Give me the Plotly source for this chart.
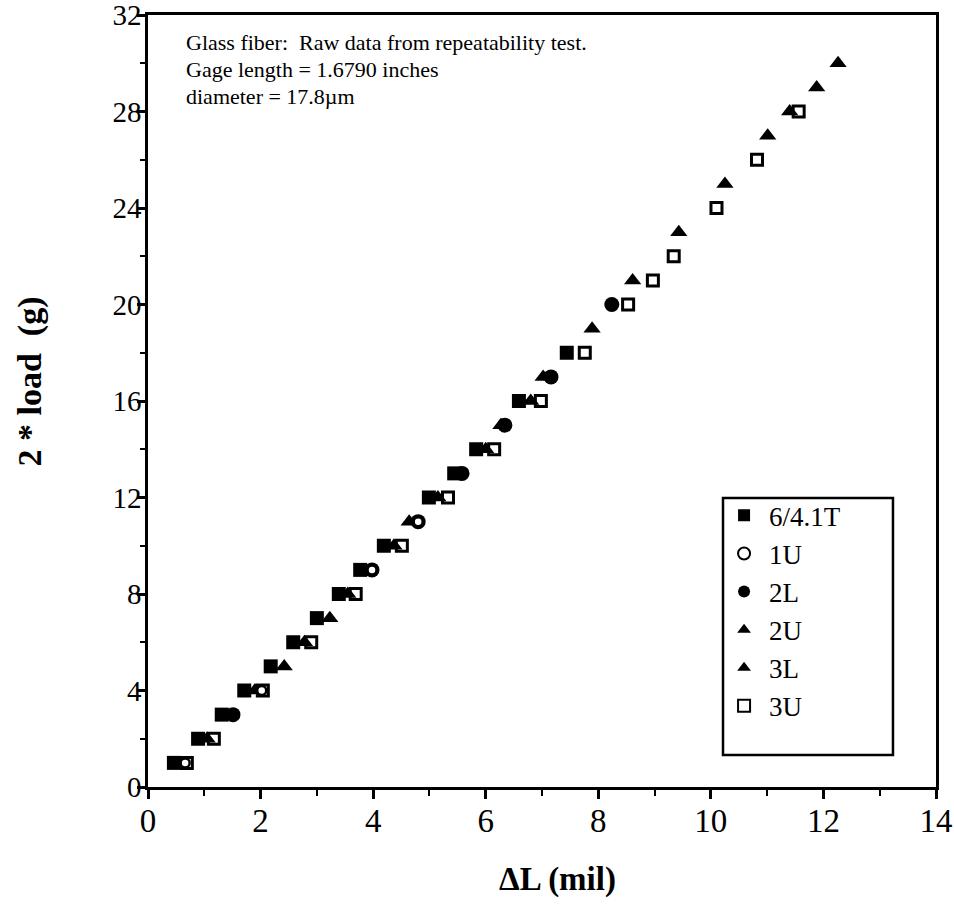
import plotly.graph_objects as go

# ---- data ----
t6_load = [1, 2, 3, 4, 5, 6, 7, 8, 9, 10, 12, 13, 14, 16, 18]
t6_dl   = [0.46, 0.89, 1.31, 1.71, 2.18, 2.58, 3.00, 3.39, 3.77, 4.19, 4.99, 5.44, 5.83, 6.59, 7.44]

u1_load = [1, 4, 9, 11]
u1_dl   = [0.66, 2.02, 3.98, 4.80]

l2_load = [3, 9, 11, 13, 15, 17, 20]
l2_dl   = [1.51, 3.98, 4.80, 5.58, 6.34, 7.16, 8.24]

u2_load = [5, 7, 11, 15, 17]
u2_dl   = [2.42, 3.23, 4.64, 6.27, 7.02]

l3_load = [2, 4, 6, 8, 10, 12, 14, 16, 19, 21, 23, 25, 27, 28, 29, 30]
l3_dl   = [1.05, 1.90, 2.78, 3.55, 4.37, 5.15, 6.00, 6.80, 7.89, 8.61, 9.43, 10.25, 11.01, 11.40, 11.88, 12.26]

u3_load = [1, 2, 4, 6, 8, 10, 12, 14, 16, 18, 20, 21, 22, 24, 26, 28]
u3_dl   = [0.69, 1.17, 2.04, 2.90, 3.69, 4.51, 5.33, 6.15, 6.98, 7.76, 8.53, 8.97, 9.34, 10.10, 10.82, 11.56]

annot_lines = ["Glass fiber:  Raw data from repeatability test.",
               "Gage length = 1.6790 inches",
               "diameter = 17.8\u00b5m"]
x_title = "\u0394L (mil)"
y_title = "2 * load  (g)"

FONT = "Liberation Serif"

fig = go.Figure()

def add(name, xs, ys, symbol, size, rank, fill="black", lw=0):
    fig.add_trace(go.Scatter(
        x=xs, y=ys, mode="markers", name=name, legendrank=rank,
        legendgroup=name,
        marker=dict(symbol=symbol, size=size, color=fill,
                    line=dict(color="black", width=lw)),
    ))

# drawing order chosen so overlaps look like the reference
add("3U", u3_dl, u3_load, "square", 11, 6, fill="white", lw=3)
add("6/4.1T", t6_dl, t6_load, "square", 14, 1)
add("2L", l2_dl, l2_load, "circle", 15, 3)
add("2U", u2_dl, u2_load, "triangle-up", 15, 4)
add("3L", l3_dl, l3_load, "triangle-up", 15, 5)
add("1U", u1_dl, u1_load, "circle", 9, 2, fill="white", lw=2.5)

fig.update_layout(
    width=954, height=907,
    margin=dict(l=148, r=18, t=15, b=120),
    paper_bgcolor="white", plot_bgcolor="white",
    font=dict(family=FONT, size=22, color="black"),
    showlegend=True,
    legend=dict(
        x=0.7247, y=0.383, xanchor="left", yanchor="top",
        borderwidth=0, bgcolor="rgba(0,0,0,0)",
        font=dict(family=FONT, size=27),
        tracegroupgap=0, traceorder="grouped",
        itemwidth=40, itemsizing="constant",
    ),
)

# legend frame
fig.add_shape(type="rect", xref="paper", yref="paper",
              x0=0.7297, x1=0.9454, y0=0.0415, y1=0.3744,
              line=dict(color="black", width=2.5), fillcolor="white", layer="below")

fig.update_xaxes(
    range=[0, 14], dtick=2, tick0=0, automargin=False,
    showline=True, linecolor="black", linewidth=2.5, mirror=True,
    ticks="outside", ticklen=9, tickwidth=2.5, tickcolor="black",
    minor=dict(dtick=1, ticks="outside", ticklen=6, tickwidth=2, tickcolor="black", showgrid=False),
    showgrid=False, zeroline=False, ticklabeloverflow="allow",
    tickfont=dict(family=FONT, size=33), ticklabelstandoff=-6,
)
fig.update_yaxes(
    range=[0, 32], dtick=4, tick0=0, automargin=False,
    showline=True, linecolor="black", linewidth=2.5, mirror=True,
    ticks="outside", ticklen=8, tickwidth=2.5, tickcolor="black",
    minor=dict(dtick=2, ticks="outside", ticklen=5, tickwidth=2, tickcolor="black", showgrid=False),
    showgrid=False, zeroline=False, ticklabeloverflow="allow",
    tickfont=dict(family=FONT, size=29), ticklabelstandoff=-10,
)

# axis titles
fig.add_annotation(xref="paper", yref="paper", x=0.52, y=-0.12, yanchor="middle",
                   text="<b>" + x_title + "</b>", showarrow=False,
                   font=dict(family=FONT, size=33))
fig.add_annotation(xref="paper", yref="paper", x=-0.15, y=0.525, xanchor="center",
                   text="<b>" + y_title + "</b>", showarrow=False, textangle=-90,
                   font=dict(family=FONT, size=34))

# info text
for i, line in enumerate(annot_lines):
    fig.add_annotation(
        xref="paper", yref="paper", x=0.0463, y=0.965 - i * 0.035,
        xanchor="left", yanchor="middle",
        text=line, showarrow=False, align="left",
        font=dict(family=FONT, size=22),
    )

fig.write_html("out.html", config={"displayModeBar": False},
               post_script="document.body.style.margin='0px';")
